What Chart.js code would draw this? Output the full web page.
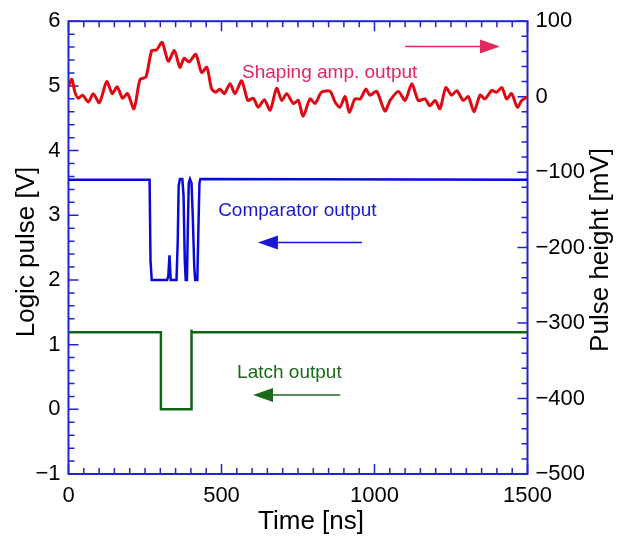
<!DOCTYPE html>
<html>
<head>
<meta charset="utf-8">
<style>
  html, body { margin: 0; padding: 0; background: #fff; }
</style>
</head>
<body>
<canvas id="pulseChart" width="622" height="541"></canvas>
<script src="https://cdn.jsdelivr.net/npm/chart.js@4/dist/chart.umd.min.js"></script>
<script>
// shaping amplifier output, time [ns] / pulse height [mV] (right axis)
const shaperTime = [0, 11, 21, 32, 46, 65, 81, 101, 125, 143,
  159, 177, 193, 214, 234, 253, 272, 288, 306, 326,
  346, 364, 378, 394, 416, 435, 452, 468, 481, 495,
  509, 528, 544, 566, 586, 604, 620, 640, 659, 680,
  697, 713, 735, 751, 767, 789, 806, 827, 855, 871,
  887, 904, 918, 936, 953, 972, 985, 1007, 1034, 1051,
  1078, 1100, 1122, 1143, 1165, 1181, 1198, 1214, 1233, 1252,
  1269, 1290, 1307, 1325, 1345, 1361, 1383, 1399, 1416, 1432,
  1448, 1467, 1481, 1500];
const shaperMv = [14, 23, 6, -2, 2, -7, 4, -8, 20, 4,
  13, -2, 4, -16, 23, 26, 61, 62, 72, 47,
  61, 39, 51, 46, 56, 32, 39, 10, 6, 10,
  4, 17, 4, 21, -5, -2, -14, -4, -18, 11,
  -5, 4, -9, -5, -26, -3, -9, 6, 7, -7,
  -14, 0, -21, -3, -3, 10, 2, 7, -19, -5,
  7, -5, 17, -5, -3, -12, -5, -16, 12, 2,
  8, -5, 0, -20, 2, -3, 8, 6, 12, -3,
  4, -14, -5, 0];

// comparator output, time [ns] / logic level [V]
const compTime = [0, 265, 268, 272, 322, 326, 330, 334, 353, 357, 360, 364, 372,
  376, 380, 383, 387, 390, 393, 397, 402, 406, 411, 414, 421, 425, 428, 431, 1500];
const compVolt = [3.55, 3.55, 2.3, 2.0, 2.0, 2.05, 2.38, 2.0, 2.0, 2.6, 3.45, 3.56, 3.56,
  3.3, 2.3, 2.0, 2.0, 2.8, 3.5, 3.56, 3.5, 3.0, 2.2, 2.0, 2.0, 2.9, 3.5, 3.56, 3.55];

// latch output, time [ns] / logic level [V]
const latchTime = [0, 302, 302, 402, 402, 402, 1500];
const latchVolt = [1.19, 1.19, 0, 0, 1.23, 1.19, 1.19];

// axis ranges
const timeRange = [0, 1500];
const voltRange = [-1, 6];
const mvRange = [-500, 100];

const axisBlue = '#2323d2';
const textFont = '"Liberation Sans", Arial, sans-serif';
const tickFont = { family: textFont, size: 22 };

// captions with arrows, placed in data units (ns, V)
const captions = [
  { text: 'Shaping amp. output', t: 567, v: 5.12, color: '#e0285f',
    arrow: { from: 1100, to: 1410, v: 5.61 } },
  { text: 'Comparator output', t: 489, v: 2.99, color: '#1818d6',
    arrow: { from: 959, to: 619, v: 2.58 } },
  { text: 'Latch output', t: 551, v: 0.48, color: '#1b6a1b',
    arrow: { from: 888, to: 603, v: 0.22 } }
];

const toPoints = (xs, ys) => xs.map((x, i) => ({ x: x, y: ys[i] }));
const plain = v => String(v).replace('-', '\u2212');

// frame box with inward ticks on all four sides
const frameTicks = {
  id: 'frameTicks',
  beforeDatasetsDraw(chart) {
    const { ctx, chartArea: a, scales } = chart;
    ctx.save();
    ctx.strokeStyle = axisBlue;
    ctx.lineWidth = 1.5;
    ctx.beginPath();
    for (let t = timeRange[0]; t <= timeRange[1]; t += 50) {
      const px = scales.x.getPixelForValue(t);
      const len = t % 500 === 0 ? 10 : 6;
      ctx.moveTo(px, a.bottom); ctx.lineTo(px, a.bottom - len);
      ctx.moveTo(px, a.top); ctx.lineTo(px, a.top + len);
    }
    for (let i = voltRange[0] * 5; i <= voltRange[1] * 5; i++) {
      const py = scales.y.getPixelForValue(i / 5);
      const len = i % 5 === 0 ? 10 : 6;
      ctx.moveTo(a.left, py); ctx.lineTo(a.left + len, py);
    }
    for (let mv = mvRange[0]; mv <= mvRange[1]; mv += 20) {
      const py = scales.y2.getPixelForValue(mv);
      const len = mv % 100 === 0 ? 10 : 6;
      ctx.moveTo(a.right, py); ctx.lineTo(a.right - len, py);
    }
    ctx.stroke();
    ctx.lineWidth = 2;
    ctx.strokeRect(a.left, a.top, a.right - a.left, a.bottom - a.top);
    ctx.restore();
  }
};

// axis titles and the three captions
const labels = {
  id: 'labels',
  afterDraw(chart) {
    const { ctx, scales } = chart;
    ctx.save();
    ctx.fillStyle = '#000';
    ctx.font = '26px ' + textFont;
    ctx.textAlign = 'center';
    ctx.textBaseline = 'middle';
    ctx.fillText('Time [ns]', 311, 522);
    ctx.translate(27, 252);
    ctx.rotate(-Math.PI / 2);
    ctx.fillText('Logic pulse [V]', 0, 0);
    ctx.setTransform(1, 0, 0, 1, 0, 0);
    ctx.translate(601, 250);
    ctx.rotate(-Math.PI / 2);
    ctx.fillText('Pulse height [mV]', 0, 0);
    ctx.setTransform(1, 0, 0, 1, 0, 0);

    ctx.font = '19px ' + textFont;
    ctx.textAlign = 'left';
    ctx.textBaseline = 'alphabetic';
    captions.forEach(c => {
      ctx.fillStyle = c.color;
      ctx.strokeStyle = c.color;
      ctx.fillText(c.text, scales.x.getPixelForValue(c.t), scales.y.getPixelForValue(c.v));
      const y = scales.y.getPixelForValue(c.arrow.v);
      const x0 = scales.x.getPixelForValue(c.arrow.from);
      const x1 = scales.x.getPixelForValue(c.arrow.to);
      const dir = Math.sign(x1 - x0);
      const head = 20;
      ctx.lineWidth = 1.5;
      ctx.beginPath();
      ctx.moveTo(x0, y);
      ctx.lineTo(x1 - dir * head, y);
      ctx.stroke();
      ctx.beginPath();
      ctx.moveTo(x1, y);
      ctx.lineTo(x1 - dir * head, y - 7);
      ctx.lineTo(x1 - dir * head, y + 7);
      ctx.closePath();
      ctx.fill();
    });
    ctx.restore();
  }
};

new Chart(document.getElementById('pulseChart'), {
  type: 'line',
  data: {
    datasets: [
      {
        label: 'Latch output',
        data: toPoints(latchTime, latchVolt),
        yAxisID: 'y',
        borderColor: '#0f6416',
        borderWidth: 2.5,
        pointRadius: 0,
        tension: 0
      },
      {
        label: 'Comparator output',
        data: toPoints(compTime, compVolt),
        yAxisID: 'y',
        borderColor: '#0a0ad8',
        borderWidth: 2.5,
        pointRadius: 0,
        tension: 0
      },
      {
        label: 'Shaping amp. output',
        data: toPoints(shaperTime, shaperMv),
        yAxisID: 'y2',
        borderColor: '#dd0a14',
        borderWidth: 3,
        pointRadius: 0,
        tension: 0.25
      }
    ]
  },
  options: {
    responsive: false,
    animation: false,
    devicePixelRatio: 1,
    layout: { padding: { top: 17, left: 0, right: 0, bottom: 0 } },
    plugins: { legend: { display: false }, tooltip: { enabled: false } },
    scales: {
      x: {
        type: 'linear',
        min: timeRange[0],
        max: timeRange[1],
        grid: { display: true, drawOnChartArea: false, drawTicks: false },
        border: { display: false },
        ticks: { stepSize: 500, padding: 9, color: '#000', font: tickFont, maxRotation: 0, autoSkip: false, callback: plain },
        afterFit: s => { s.height = 67; }
      },
      y: {
        position: 'left',
        min: voltRange[0],
        max: voltRange[1],
        grid: { display: true, drawOnChartArea: false, drawTicks: false },
        border: { display: false },
        ticks: { stepSize: 1, padding: 8, color: '#000', font: tickFont, callback: plain },
        afterFit: s => { s.width = 68.5; }
      },
      y2: {
        position: 'right',
        min: mvRange[0],
        max: mvRange[1],
        grid: { display: true, drawOnChartArea: false, drawTicks: false },
        border: { display: false },
        ticks: { stepSize: 100, padding: 8, color: '#000', font: tickFont, callback: plain },
        afterFit: s => { s.width = 94.5; }
      }
    }
  },
  plugins: [frameTicks, labels]
});
</script>
</body>
</html>
